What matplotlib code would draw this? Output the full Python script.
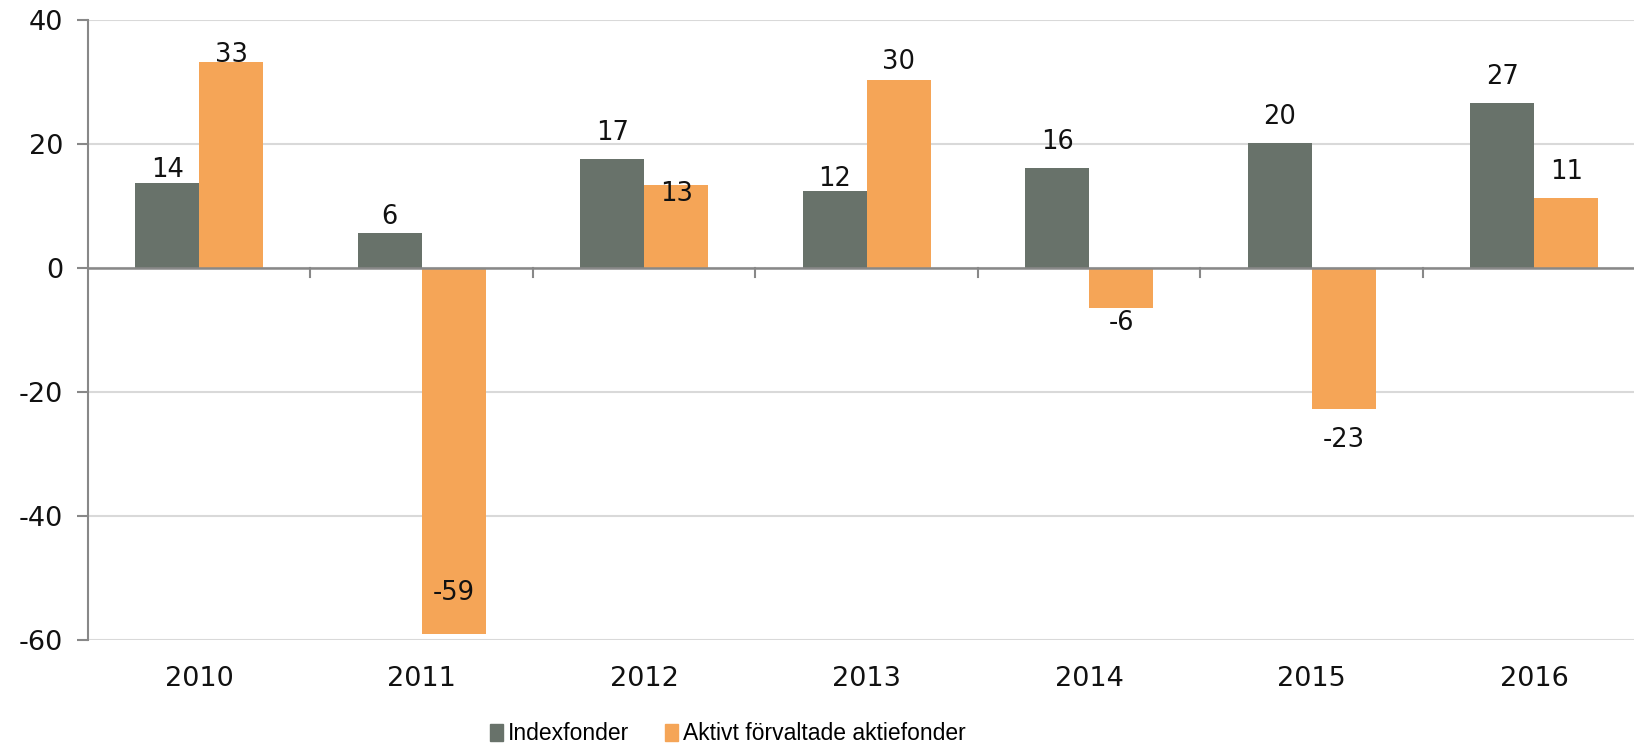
import matplotlib.pyplot as plt
import matplotlib.patches as mpatches
import numpy as np

plt.rcParams['axes.unicode_minus'] = False

years = ['2010', '2011', '2012', '2013', '2014', '2015', '2016']
index_vals = [13.7, 5.6, 17.6, 12.4, 16.1, 20.2, 26.6]
aktiv_vals = [33.3, -59.1, 13.4, 30.3, -6.4, -22.8, 11.3]
index_labels = ['14', '6', '17', '12', '16', '20', '27']
aktiv_labels = ['33', '-59', '13', '30', '-6', '-23', '11']
series_names = ['Indexfonder', 'Aktivt förvaltade aktiefonder']

# label offsets in pixels (label centre relative to bar end, downward positive)
index_off = [-13, -16.5, -25.5, -12, -26.5, -26, -26]
aktiv_off = [-7, -41.5, 9, -18.5, 15, 31, -26]

c_index = '#68726a'
c_aktiv = '#f5a557'

fig = plt.figure(figsize=(16.34, 7.5), dpi=100)
ax = fig.add_axes([88 / 1634, 1 - 640 / 750, 1557.5 / 1634, 620 / 750])

x = np.arange(len(years))
w = 0.288
b1 = ax.bar(x - w / 2, index_vals, w, color=c_index, zorder=3)
b2 = ax.bar(x + w / 2, aktiv_vals, w, color=c_aktiv, zorder=3)

for bars, labs, offs in [(b1, index_labels, index_off), (b2, aktiv_labels, aktiv_off)]:
    for r, lab, off in zip(bars, labs, offs):
        v = r.get_y() + r.get_height()
        ax.annotate(lab, (r.get_x() + r.get_width() / 2, v),
                    xytext=(0, -off), textcoords='offset pixels',
                    ha='center', va='center', fontsize=18.5, color='#111111',
                    zorder=5)

ax.set_xlim(-0.5, 6.5)
ax.set_ylim(-60, 40)
ax.set_yticks([-60, -40, -20, 0, 20, 40])
ax.yaxis.grid(True, color='#d9d9d9', linewidth=1.5, zorder=0)
ax.axhline(0, color='#888888', linewidth=1.8, zorder=4)

for s in ['top', 'right', 'bottom']:
    ax.spines[s].set_visible(False)
ax.spines['left'].set_color('#888888')
ax.spines['left'].set_linewidth(1.5)
ax.spines['left'].set_bounds(-60, 40)

ax.tick_params(axis='y', length=8, width=1.5, color='#888888',
               labelsize=19.5, pad=10, labelcolor='#111111')

# year labels + boundary ticks on the zero line
ax.set_xticks(x)
ax.set_xticklabels([])
ax.tick_params(axis='x', length=0)
for i, yr in enumerate(years):
    ax.text(i, -66.3, yr, ha='center', va='center',
            fontsize=19.5, color='#111111', clip_on=False)
for i in range(1, len(years)):
    ax.plot([i - 0.5, i - 0.5], [0, -1.45], color='#888888', linewidth=1.5,
            zorder=4, clip_on=False)

handles = [mpatches.Patch(color=c_index, label=series_names[0]),
           mpatches.Patch(color=c_aktiv, label=series_names[1])]
fig.legend(handles=handles, loc='center', bbox_to_anchor=(728 / 1634, 1 - 734 / 750),
           ncol=2, frameon=False,
           prop={'family': ['Liberation Sans', 'DejaVu Sans'], 'size': 16.5},
           handlelength=0.55, handleheight=0.8, handletextpad=0.25,
           columnspacing=1.55, borderaxespad=0, borderpad=0)

fig.savefig('out.png', dpi=100)
